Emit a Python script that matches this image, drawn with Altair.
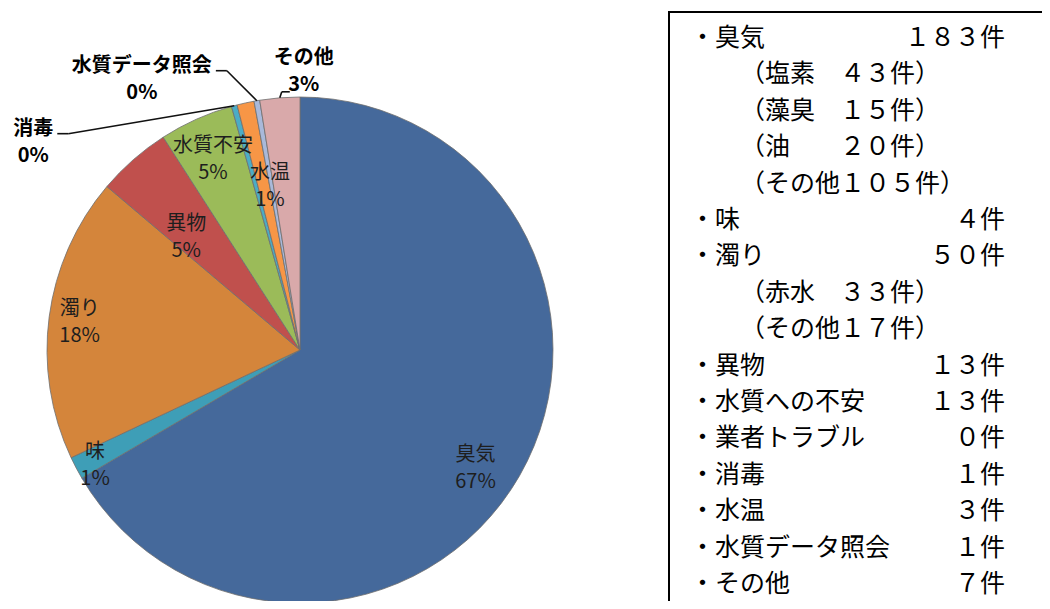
import altair as alt
import pandas as pd

# ---- data ----
cats = ["臭気", "味", "濁り", "異物", "水質不安", "消毒", "水温", "水質データ照会", "その他"]
counts = [183, 4, 50, 13, 13, 1, 3, 1, 7]
colors = ["#45699B", "#3E9EB7", "#D4853B", "#C0504D", "#9BBB59",
          "#4BACC6", "#F79646", "#A9B9DA", "#D9A9AA"]

list_items = ["・臭気", "（塩素　４３件）", "（藻臭　１５件）", "（油　　２０件）",
              "（その他１０５件）", "・味", "・濁り", "（赤水　３３件）", "（その他１７件）",
              "・異物", "・水質への不安", "・業者トラブル", "・消毒", "・水温",
              "・水質データ照会", "・その他"]
list_counts = ["１８３件", "", "", "", "", "４件", "５０件", "", "", "１３件",
               "１３件", "０件", "１件", "３件", "１件", "７件"]

# ---- layout / style ----
W, H = 1034, 593
CX, CY, R = 292, 342, 253
FONT = "Noto Sans CJK JP"
LFS, LLH = 20, 27          # pie label font size / line height
total = sum(counts)

# inside labels: (radius px, angle offset deg)
inside = {"臭気": (212, 4.3), "味": (235, -1.5), "濁り": (222, -0.5),
          "異物": (160, -4.1), "水質不安": (209, -0.4), "水温": (166, 2.0)}
# outside labels: label offset from slice edge point, leader polyline offsets
outside = {
    "消毒": {"lab": (-201, 37), "pts": [(0, 0), (-166, 28), (-177, 28)]},
    "水質データ照会": {"lab": (-115, -21), "pts": [(0, 0), (-30, -30), (-41, -30)]},
    "その他": {"lab": (24, -26), "pts": [(0, 0), (2, -6), (10, -6)]},
}

df = pd.DataFrame({"cat": cats, "count": counts, "ord": list(range(len(cats)))})


def stacked():
    return alt.Chart(df).transform_window(
        cum="sum(count)", sort=[alt.SortField("ord", order="ascending")], frame=[None, 0]
    ).transform_calculate(
        a=f"(datum.cum - datum.count / 2) / {total} * 2 * PI",
        pct=f"format(datum.count / {total}, '.0%')",
    ).transform_calculate(
        ex=f"{CX} + {R} * sin(datum.a)",
        ey=f"{CY} - {R} * cos(datum.a)",
        label="datum.cat + '\\n' + datum.pct",
    )


pie = alt.Chart(df).mark_arc(radius=R, stroke="#6E6E6E", strokeWidth=0.8).encode(
    theta=alt.Theta("count:Q", stack=True),
    order=alt.Order("ord:Q"),
    color=alt.Color("cat:N", scale=alt.Scale(domain=cats, range=colors), legend=None),
    x=alt.value(CX),
    y=alt.value(CY),
)

layers = [pie]

for c, (r, off) in inside.items():
    t = stacked().transform_filter(alt.datum.cat == c).transform_calculate(
        lx=f"{CX} + {r} * sin(datum.a + {off} * PI / 180)",
        ly=f"{CY} - {r} * cos(datum.a + {off} * PI / 180)",
    ).mark_text(font=FONT, fontSize=LFS, color="#1E1E1E", lineBreak="\n",
                lineHeight=LLH, dy=-LLH / 2, align="center", baseline="middle").encode(
        x=alt.X("lx:Q", scale=None), y=alt.Y("ly:Q", scale=None), text="label:N")
    layers.append(t)

for c, spec in outside.items():
    lx, ly = spec["lab"]
    t = stacked().transform_filter(alt.datum.cat == c).transform_calculate(
        lx=f"datum.ex + {lx}", ly=f"datum.ey + {ly}",
    ).mark_text(font=FONT, fontSize=LFS, fontWeight="bold", color="#000000",
                lineBreak="\n", lineHeight=LLH, dy=-LLH / 2, align="center",
                baseline="middle").encode(
        x=alt.X("lx:Q", scale=None), y=alt.Y("ly:Q", scale=None), text="label:N")
    layers.append(t)
    pts = spec["pts"]
    for (x1, y1), (x2, y2) in zip(pts[:-1], pts[1:]):
        seg = stacked().transform_filter(alt.datum.cat == c).transform_calculate(
            sx=f"datum.ex + {x1}", sy=f"datum.ey + {y1}",
            tx=f"datum.ex + {x2}", ty=f"datum.ey + {y2}",
        ).mark_rule(color="#111111", strokeWidth=1.6).encode(
            x=alt.X("sx:Q", scale=None), y=alt.Y("sy:Q", scale=None),
            x2="tx:Q", y2="ty:Q")
        layers.append(seg)

# ---- box with list ----
box = alt.Chart(pd.DataFrame({"k": [0]})).mark_rect(
    filled=False, stroke="#000000", strokeWidth=2).encode(
    x=alt.value(661), x2=alt.value(W + 30), y=alt.value(4), y2=alt.value(H + 30))
layers.append(box)

ldf = pd.DataFrame({"row": list(range(len(list_items))), "item": list_items,
                    "num": list_counts})
n = len(list_items)
yscale = alt.Scale(domain=[0, n - 1], range=[30, 576])
LIST_FS = 25

left = alt.Chart(ldf).transform_calculate(
    lx=f"indexof(datum.item, '（') == 0 ? {682 + 2 * LIST_FS} : 682"
).mark_text(font=FONT, fontSize=LIST_FS, color="#000000", align="left",
            baseline="middle").encode(
    x=alt.X("lx:Q", scale=None), y=alt.Y("row:Q", scale=yscale, axis=None), text="item:N")
right = alt.Chart(ldf).mark_text(font=FONT, fontSize=LIST_FS, color="#000000",
                                 align="right", baseline="middle").encode(
    x=alt.value(997), y=alt.Y("row:Q", scale=yscale, axis=None), text="num:N")
layers += [left, right]

chart = alt.layer(*layers).properties(
    width=W, height=H, padding=0, autosize=alt.AutoSizeParams(type="none"),
    background="white",
).resolve_scale(y="independent").configure_view(stroke=None)

chart.save("out.html", embed_options={"renderer": "svg", "actions": False})
